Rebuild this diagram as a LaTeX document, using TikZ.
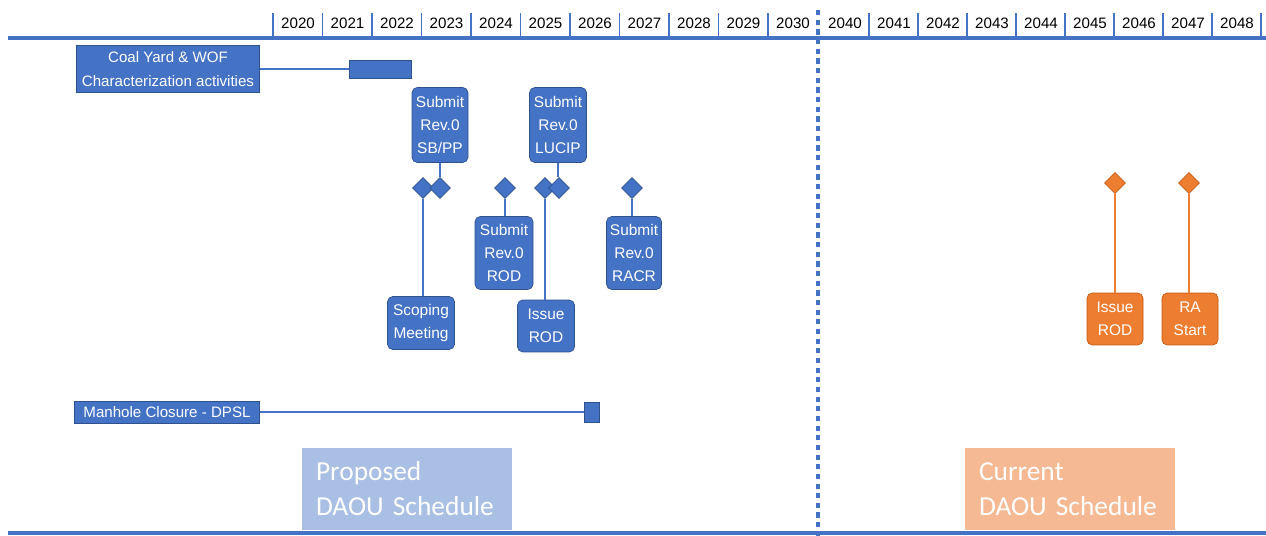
\documentclass[tikz,border=0pt]{standalone}
\usepackage{fontspec}
\setmainfont{Liberation Sans}
\newfontfamily\calfont{Carlito}
\usetikzlibrary{shapes.geometric}
\definecolor{msblue}{HTML}{4472C4}
\definecolor{msdark}{HTML}{2F528F}
\definecolor{msorange}{HTML}{ED7D31}
\definecolor{msodark}{HTML}{C55A11}
\definecolor{lblue}{HTML}{A9BFE3}
\definecolor{lorange}{HTML}{F5B994}
\begin{document}
\begin{tikzpicture}[x=0.02cm,y=-0.02cm,
    yr/.style={font=\fontsize{8.6}{10}\selectfont,inner sep=0pt},
    actbox/.style={draw=msdark,fill=msblue,text=white,align=center,inner sep=1pt,
      font=\fontsize{8.6}{13.5}\selectfont},
    actbar/.style={fill=msblue,draw=msdark,inner sep=0pt},
    ms/.style={draw=msdark,fill=msblue,text=white,rounded corners=3pt,align=center,
      inner sep=1pt,font=\fontsize{8.8}{13}\selectfont},
    oms/.style={ms,draw=msodark,fill=msorange},
    dia/.style={diamond,draw=msdark,fill=msblue,inner sep=0pt,minimum size=0.42cm},
    odia/.style={dia,draw=msodark,fill=msorange},
    link/.style={draw=msblue,line width=1.1pt},
    olink/.style={draw=msorange,line width=1.1pt},
    sched/.style={text=white,align=left,inner xsep=0.28cm,minimum height=1.64cm,
      text width=3.64cm,font=\calfont\fontsize{15.6}{20}\selectfont}]
\useasboundingbox (0,0) rectangle (1266,536);

% time axis
\draw[msblue,line width=2.3pt] (8,38) -- (1266,38);
\draw[msblue,line width=2.3pt] (8,533) -- (1266,533);
\foreach \y [count=\i from 0] in {2020,...,2030}{
  \node[yr] (y\y) at (298+49.5*\i,23) {\y};
  \draw[msblue,line width=0.8pt] (273+49.5*\i,13) -- (273+49.5*\i,36);
}
\foreach \y [count=\i from 0] in {2040,...,2048}{
  \node[yr] (y\y) at (845+49*\i,23) {\y};
  \draw[msblue,line width=0.8pt] (869+49*\i,13) -- (869+49*\i,36);
}
\draw[msblue,line width=2.2pt,dash pattern=on 3pt off 2.5pt] (818,10) -- (818,536);

% activities
\node[actbox,minimum width=3.66cm,minimum height=0.94cm] (coal) at (168,69)
  {Coal Yard \& WOF\\Characterization activities};
\node[actbar,minimum width=1.24cm,minimum height=0.36cm] (coalbar) at (380,69) {};
\draw[link] (coal) -- (coalbar);

\node[actbox,minimum width=3.7cm,minimum height=0.44cm] (manhole) at (167,412)
  {Manhole Closure - DPSL};
\node[actbar,minimum width=0.3cm,minimum height=0.4cm] (mhbar) at (592,412) {};
\draw[link] (manhole) -- (mhbar);

% milestones
\node[ms,minimum width=1.12cm,minimum height=1.5cm] (sbpp) at (440,125) {Submit\\Rev.0\\SB/PP};
\node[ms,minimum width=1.34cm,minimum height=1.06cm] (scoping) at (421,323) {Scoping\\Meeting};
\node[ms,minimum width=1.16cm,minimum height=1.46cm] (rodsub) at (504,253) {Submit\\Rev.0\\ROD};
\node[ms,minimum width=1.14cm,minimum height=1.5cm] (lucip) at (558,125) {Submit\\Rev.0\\LUCIP};
\node[ms,minimum width=1.14cm,minimum height=1.04cm] (issue) at (546,326) {Issue\\ROD};
\node[ms,minimum width=1.1cm,minimum height=1.46cm] (racr) at (634,253) {Submit\\Rev.0\\RACR};

\node[dia] (d1) at (423,188) {};
\node[dia] (d2) at (440,188) {};
\node[dia] (d3) at (505,188) {};
\node[dia] (d4) at (545,188) {};
\node[dia] (d5) at (559,188) {};
\node[dia] (d6) at (632,188) {};

\draw[link] (sbpp) -- (d2);
\draw[link] (d1) -- (d1 |- scoping.north);
\draw[link] (d3) -- (d3 |- rodsub.north);
\draw[link] (lucip) -- (lucip |- d5.north);
\draw[link] (d4) -- (d4 |- issue.north);
\draw[link] (d6) -- (d6 |- racr.north);

% current schedule
\node[oms,minimum width=1.12cm,minimum height=1.04cm] (oissue) at (1115,319) {Issue\\ROD};
\node[oms,minimum width=1.12cm,minimum height=1.04cm] (rastart) at (1190,319) {RA\\Start};
\node[odia] (o1) at (1115,183) {};
\node[odia] (o2) at (1189,183) {};
\draw[olink] (o1) -- (o1 |- oissue.north);
\draw[olink] (o2) -- (o2 |- rastart.north);

% legends
\node[sched,fill=lblue] (proposed) at (407,489) {Proposed\\DAOU Schedule};
\node[sched,fill=lorange] (current) at (1070,489) {Current\\DAOU Schedule};
\end{tikzpicture}
\end{document}
